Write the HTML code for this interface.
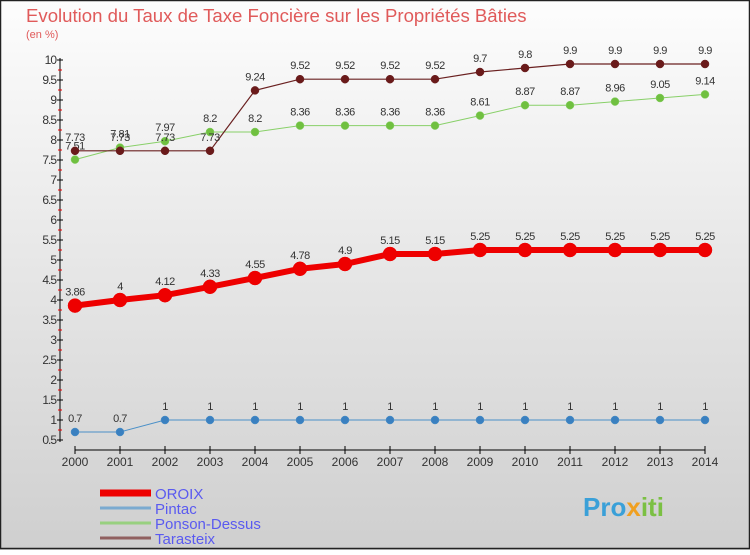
<!DOCTYPE html>
<html><head><meta charset="utf-8"><style>
body{margin:0;}
svg text{font-family:"Liberation Sans",sans-serif;}
</style></head><body>
<svg width="750" height="550" xmlns="http://www.w3.org/2000/svg">
<defs><linearGradient id="bg" x1="0" y1="0" x2="0" y2="1"><stop offset="0" stop-color="#fdfdfd"/><stop offset="1" stop-color="#cfcfcf"/></linearGradient></defs>
<rect x="0" y="0" width="750" height="550" fill="url(#bg)"/>
<rect x="0.5" y="0.5" width="749" height="548" fill="none" stroke="#222" stroke-width="1.5"/>
<text x="26" y="22" font-size="18.6" fill="#e05a5a">Evolution du Taux de Taxe Foncière sur les Propriétés Bâties</text>
<text x="26" y="38" font-size="11" fill="#e05a5a">(en %)</text>
<g id="axes"></g>
<g id="series"></g>
<g id="legend"></g>
<text x="583" y="516" font-size="26" font-weight="bold" fill="#3aa0d8">Pro<tspan fill="#f0a020">x</tspan><tspan fill="#7bc043">iti</tspan></text>
</svg>
<script>
const years=[2000,2001,2002,2003,2004,2005,2006,2007,2008,2009,2010,2011,2012,2013,2014];
const oroix=[3.86,4,4.12,4.33,4.55,4.78,4.9,5.15,5.15,5.25,5.25,5.25,5.25,5.25,5.25];
const pintac=[0.7,0.7,1,1,1,1,1,1,1,1,1,1,1,1,1];
const ponson=[7.51,7.81,7.97,8.2,8.2,8.36,8.36,8.36,8.36,8.61,8.87,8.87,8.96,9.05,9.14];
const tarasteix=[7.73,7.73,7.73,7.73,9.24,9.52,9.52,9.52,9.52,9.7,9.8,9.9,9.9,9.9,9.9];
const yTicks=[0.5,1,1.5,2,2.5,3,3.5,4,4.5,5,5.5,6,6.5,7,7.5,8,8.5,9,9.5,10];
const NS="http://www.w3.org/2000/svg";
const X=i=>75+i*45;
const Y=v=>60+(10-v)*40;
function mk(t,a,p){const e=document.createElementNS(NS,t);for(const k in a)e.setAttribute(k,a[k]);p.appendChild(e);return e;}
const ax=document.getElementById('axes');
let l=mk('line',{x1:60,y1:58,x2:60,y2:442,stroke:'#000','stroke-width':1},ax);


l=mk('line',{x1:75,y1:450,x2:705,y2:450,stroke:'#000','stroke-width':1},ax);


yTicks.forEach(v=>{
 mk('line',{x1:57,y1:Y(v),x2:63,y2:Y(v),stroke:'#000'},ax);
 if(v>0.5) mk('line',{x1:58,y1:Y(v)+10,x2:62,y2:Y(v)+10,stroke:'#e00'},ax);
 const t=mk('text',{x:56,y:Y(v)+4,'font-size':12,'text-anchor':'end',fill:'#333','letter-spacing':'-1'},ax);
 t.textContent=String(v);
 
 
});
years.forEach((yr,i)=>{
 mk('line',{x1:X(i),y1:446,x2:X(i),y2:454,stroke:'#000'},ax);
 const t=mk('text',{x:X(i),y:466,'font-size':12,'text-anchor':'middle',fill:'#333'},ax);
 t.textContent=yr;
 
 
});
const sg=document.getElementById('series');
function series(name,vals,color,lw,r,dot){
 const g=mk('g',{},sg);
 
 
 mk('polyline',{points:vals.map((v,i)=>X(i)+','+Y(v)).join(' '),fill:'none',stroke:color,'stroke-width':lw},g);
 vals.forEach((v,i)=>{
  const c=mk('circle',{cx:X(i),cy:Y(v),r:r,fill:dot,stroke:color,'stroke-width':0.5},g);
  
  
  const t=mk('text',{x:X(i),y:Y(v)-10,'font-size':11,'text-anchor':'middle',fill:'#333','letter-spacing':'-0.5'},g);
  t.textContent=String(v);
  
  
 });
}
series('pintac',pintac,'#4a90c8',1,4,'#3a80c0');
series('ponson-dessus',ponson,'#88d068',1,4,'#70c040');
series('tarasteix',tarasteix,'#6a2020',1.2,4,'#6a1a1a');
series('oroix',oroix,'#ee0000',6,7,'#ee0000');
const lg=document.getElementById('legend');
[['OROIX','#ee0000',7],['Pintac','#7aaad0',3],['Ponson-Dessus','#98d080',3],['Tarasteix','#906060',3]].forEach((d,i)=>{
 const y=493+i*15;
 const g=mk('g',{},lg);
 
 
 mk('line',{x1:100,y1:y,x2:151,y2:y,stroke:d[1],'stroke-width':d[2]},g);
 const t=mk('text',{x:155,y:y+6,'font-size':15,fill:'#5a5af0'},g);
 t.textContent=d[0];
});
</script>
</body></html>
